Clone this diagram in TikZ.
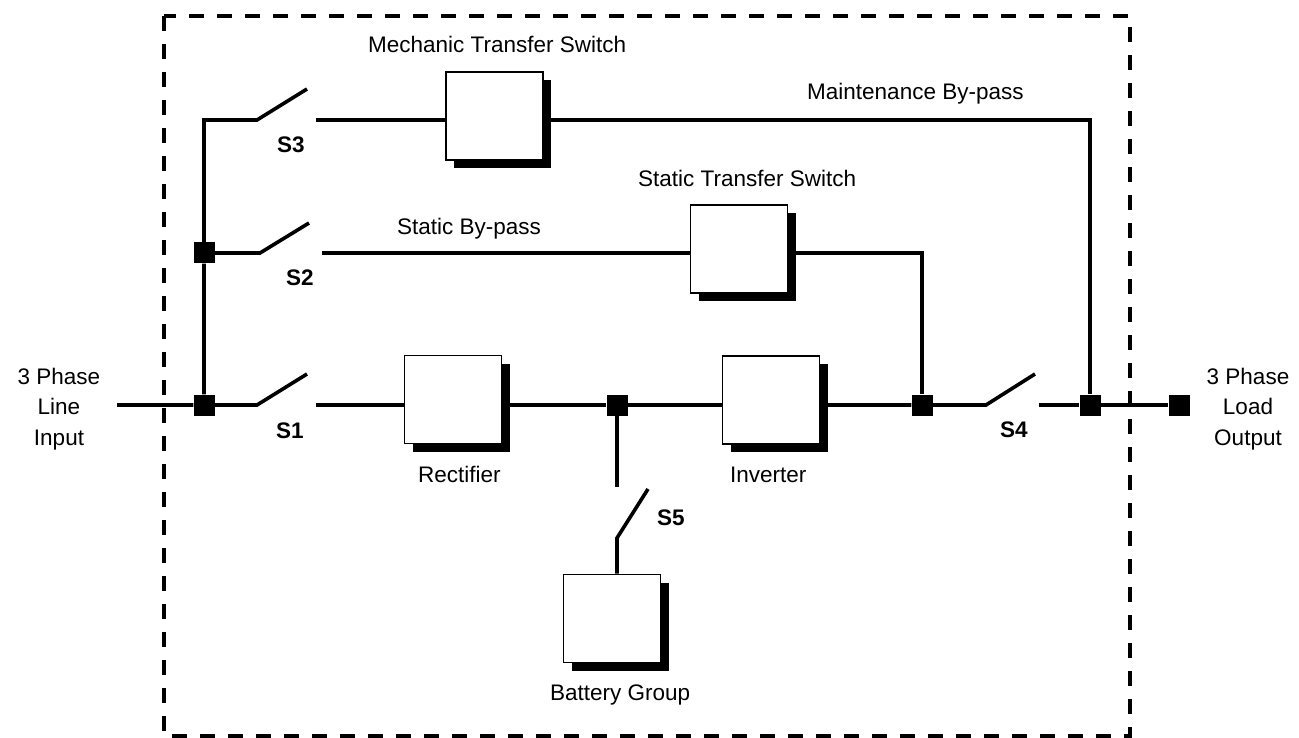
\documentclass[tikz,border=0pt]{standalone}
\usepackage{fontspec}
\setmainfont{Liberation Sans}
\usetikzlibrary{shadows}
\begin{document}
\begin{tikzpicture}[x=1pt,y=-1pt,
  wire/.style={line width=3.6pt},
  unit/.style={draw, line width=1.8pt, fill=white, minimum width=97pt, minimum height=88pt, inner sep=0pt,
    drop shadow={shadow xshift=8pt, shadow yshift=-8pt, fill=black, opacity=1}},
  jn/.style={fill=black, minimum size=21pt, inner sep=0pt},
  lbl/.style={anchor=base west, inner sep=0pt, font=\fontsize{22.5}{30.5}\selectfont},
  sw/.style={anchor=base west, inner sep=0pt, font=\fontsize{22.5}{30.5}\selectfont\bfseries},
  side/.style={align=center, inner sep=0pt, font=\fontsize{22.5}{30.5}\selectfont},
  frame/.style={line width=3.7pt, dash pattern=on 15pt off 13pt}]
\useasboundingbox (0,0) rectangle (1299,738);

% boundary of the UPS
\draw[frame] (164,16) rectangle (1130,736);

% units
\node[unit] (mts) at (494.5,116) {};
\node[unit] (sts) at (739,249) {};
\node[unit] (rect) at (453,399.5) {};
\node[unit] (inv) at (771,400) {};
\node[unit] (bat) at (612,618.5) {};

% junctions
\node[jn] (j1) at (204,405) {};
\node[jn] (j2) at (204,253) {};
\node[jn] (j3) at (617,405) {};
\node[jn] (j5) at (922,405) {};
\node[jn] (j6) at (1090,405) {};
\node[jn] (out) at (1179,405) {};

% coordinates
\coordinate (in) at (117,405);
\coordinate (top) at (204,120);
\coordinate (s3a) at (257,120);
\coordinate (s3b) at (307,89);
\coordinate (s3c) at (316,120);
\coordinate (s2a) at (260,253);
\coordinate (s2b) at (309,223);
\coordinate (s2c) at (322,253);
\coordinate (s1a) at (257,405);
\coordinate (s1b) at (307,374);
\coordinate (s1c) at (316,405);
\coordinate (s4a) at (986,405);
\coordinate (s4b) at (1035,374);
\coordinate (s4c) at (1039,405);
\coordinate (s5a) at (617,487);
\coordinate (s5h) at (617,538);
\coordinate (s5b) at (648,489);
\coordinate (mr) at (1090,120);

% maintenance by-pass
\draw[wire] (j1) -- (j2) -- (top) -- (s3a) -- (s3b);
\draw[wire] (s3c) -- (mts.west |- s3c);
\draw[wire] (mts.east |- s3c) -- (mr) -- (j6);

% static by-pass
\draw[wire] (j2) -- (s2a) -- (s2b);
\draw[wire] (s2c) -- (sts.west |- s2c);
\draw[wire] (sts.east |- s2c) -- (j5 |- s2c) -- (j5);

% main path
\draw[wire] (in) -- (j1) -- (s1a) -- (s1b);
\draw[wire] (s1c) -- (rect.west |- s1c);
\draw[wire] (rect.east |- j3) -- (j3) -- (inv.west |- j3);
\draw[wire] (inv.east |- j5) -- (j5) -- (s4a) -- (s4b);
\draw[wire] (s4c) -- (j6) -- (out);

% battery branch
\draw[wire] (j3) -- (s5a);
\draw[wire] (s5b) -- (s5h) -- (s5h |- bat.north);

% labels
\node[lbl] (lmts) at (368,53) {Mechanic Transfer Switch};
\node[lbl] (lsb) at (397,235) {Static By-pass};
\node[lbl] (lsts) at (638,187) {Static Transfer Switch};
\node[lbl] (lmb) at (807,100) {Maintenance By-pass};
\node[lbl] (lrect) at (418,482) {Rectifier};
\node[lbl] (linv) at (730,482) {Inverter};
\node[lbl] (lbat) at (550,700) {Battery Group};
\node[sw] (ls3) at (277,153) {S3};
\node[sw] (ls2) at (286,285) {S2};
\node[sw] (ls1) at (276,438) {S1};
\node[sw] (ls4) at (1000,437) {S4};
\node[sw] (ls5) at (657,525) {S5};
\node[side] (lin) at (59,409) {3 Phase\\Line\\Input};
\node[side] (lout) at (1248,409) {3 Phase\\Load\\Output};
\end{tikzpicture}
\end{document}
